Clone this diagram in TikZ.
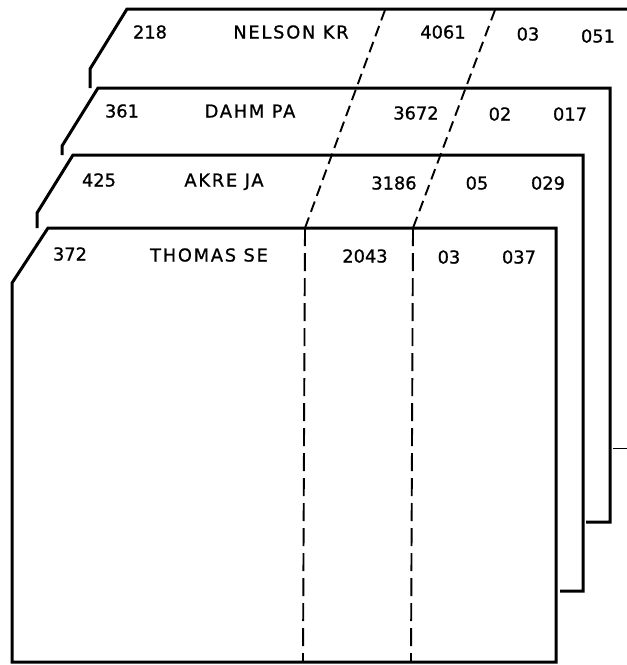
\documentclass[tikz,border=0pt]{standalone}
\usepackage{fontspec}
\setmainfont[FakeBold=0.9]{DejaVu Sans}
\newfontfamily\namefont[LetterSpace=10,FakeBold=0.9]{DejaVu Sans}
\begin{document}
\begin{tikzpicture}[x=1pt,y=-1pt,
  card/.style={line width=3pt,line join=miter,line cap=butt},
  cut/.style={line width=1.9pt,dash pattern=on 11pt off 6pt},
  vcut/.style={line width=1.9pt,dash pattern=on 18pt off 7pt},
  lbl/.style={inner sep=0pt,text height=13pt,text depth=0pt,font=\fontsize{17.8}{20}\selectfont},
  nm/.style={inner sep=0pt,text height=13pt,text depth=0pt,font=\fontsize{17.8}{20}\selectfont\namefont}]
\useasboundingbox (0,0) rectangle (627,665);
% cards, back to front
\draw[card] (90,88) -- (90,69) -- (127,9) -- (630,9);
\draw[card] (62,155) -- (62,146) -- (98,88) -- (610,88) -- (610,522) -- (586,522);
\draw[card] (37,228) -- (37,213) -- (73,155) -- (583,155) -- (583,591) -- (560,591);
\draw[card] (48,228) -- (556,228) -- (556,662) -- (12,662) -- (12,283) -- cycle;
\draw[line width=1pt] (613,448) -- (627,448);
% cut lines
\coordinate (a0) at (385,10);
\coordinate (a1) at (305,228);
\coordinate (a2) at (303,662);
\coordinate (b0) at (495,10);
\coordinate (b1) at (413,228);
\coordinate (b2) at (411,662);
\draw[cut] (a0) -- (a1);
\draw[vcut] (a1) -- (a2);
\draw[cut] (b0) -- (b1);
\draw[vcut] (b1) -- (b2);
% card 1
\node[lbl] (n1a) at (150,32) {218};
\node[nm]  (n1b) at (291,32) {NELSON KR};
\node[lbl] (n1c) at (443,32) {4061};
\node[lbl] (n1d) at (528,34) {03};
\node[lbl] (n1e) at (598,36) {051};
% card 2
\node[lbl] (n2a) at (122,111) {361};
\node[nm]  (n2b) at (250,111) {DAHM PA};
\node[lbl] (n2c) at (416,113) {3672};
\node[lbl] (n2d) at (500,114) {02};
\node[lbl] (n2e) at (570,114) {017};
% card 3
\node[lbl] (n3a) at (99,180) {425};
\node[nm]  (n3b) at (224,180) {AKRE JA};
\node[lbl] (n3c) at (394,183) {3186};
\node[lbl] (n3d) at (477,183) {05};
\node[lbl] (n3e) at (548,183) {029};
% card 4
\node[lbl] (n4a) at (70,254) {372};
\node[nm]  (n4b) at (209,255) {THOMAS SE};
\node[lbl] (n4c) at (365,256) {2043};
\node[lbl] (n4d) at (449,257) {03};
\node[lbl] (n4e) at (519,257) {037};
\end{tikzpicture}
\end{document}
